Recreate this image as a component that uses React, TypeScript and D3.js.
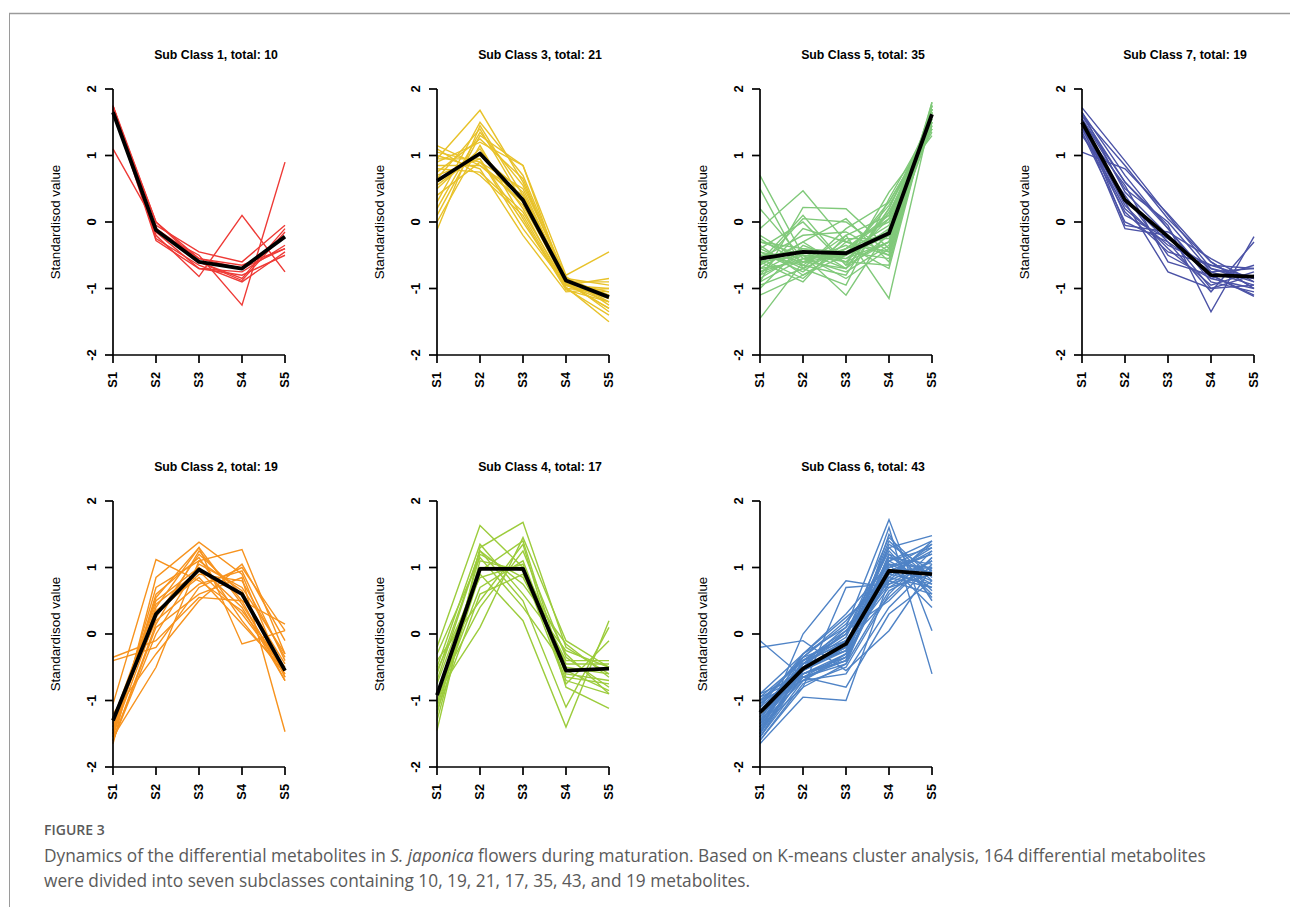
import React from 'react';
import * as d3 from 'd3';

const stages = ['S1', 'S2', 'S3', 'S4', 'S5'];
const yTicks = [-2, -1, 0, 1, 2];

// Sub Class 1 (10)
const class1 = [
  [1.75, 0.0, -0.55, -0.65, -0.4],
  [1.7, -0.1, -0.6, -0.85, -0.1],
  [1.1, -0.05, -0.45, -0.6, -0.05],
  [1.72, -0.2, -0.82, 0.1, -0.75],
  [1.68, -0.15, -0.5, -1.25, 0.9],
  [1.75, -0.25, -0.65, -0.9, -0.45],
  [1.7, -0.28, -0.7, -0.8, -0.5],
  [1.74, -0.1, -0.55, -0.7, -0.4],
  [1.72, 0.0, -0.6, -0.88, -0.15],
  [1.7, -0.15, -0.7, -0.75, -0.35],
];
const center1 = [1.65, -0.12, -0.6, -0.7, -0.22];

// Sub Class 3 (21)
const class3 = [
  [1.15, 0.85, 0.3, -0.95, -1.2],
  [1.05, 0.9, 0.5, -0.9, -1.05],
  [0.95, 1.68, 0.6, -0.85, -1.1],
  [-0.12, 1.45, 0.4, -0.92, -1.3],
  [0.1, 1.3, 0.85, -0.8, -0.45],
  [0.9, 1.2, 0.85, -0.95, -0.85],
  [0.5, 1.1, 0.2, -1.0, -1.4],
  [0.7, 0.95, 0.0, -0.98, -1.5],
  [1.0, 0.8, -0.2, -1.05, -1.0],
  [0.3, 1.5, 0.7, -0.85, -1.2],
  [0.6, 1.0, 0.45, -0.9, -0.9],
  [0.8, 0.75, 0.15, -0.95, -1.15],
  [0.2, 1.35, 0.55, -0.82, -1.25],
  [1.1, 0.7, 0.1, -1.0, -1.05],
  [0.4, 0.9, 0.25, -0.88, -1.35],
  [0.75, 1.25, 0.65, -0.9, -1.1],
  [0.55, 1.05, 0.35, -0.95, -1.0],
  [0.0, 1.15, 0.05, -1.02, -1.2],
  [0.85, 0.85, 0.4, -0.85, -0.95],
  [0.65, 1.4, 0.3, -0.92, -1.3],
  [0.95, 0.95, -0.1, -0.95, -1.1],
];
const center3 = [0.62, 1.03, 0.33, -0.88, -1.13];

// Sub Class 5 (35)
const class5 = [
  [0.7, -0.5, -0.6, -0.3, 1.5],
  [0.5, -0.7, -0.4, 0.1, 1.6],
  [-0.1, 0.47, -0.3, -0.5, 1.7],
  [-1.45, -0.6, -0.7, -0.2, 1.75],
  [-1.1, -0.8, -0.5, 0.3, 1.4],
  [-0.9, 0.22, 0.2, -0.4, 1.8],
  [-0.8, -0.5, -1.1, -0.1, 1.55],
  [-0.6, -0.9, -0.2, -1.15, 1.65],
  [-0.4, 0.0, -0.65, 0.45, 1.3],
  [-0.7, -0.3, 0.05, -0.6, 1.7],
  [-0.5, -0.65, -0.8, 0.2, 1.6],
  [-0.3, -0.4, -0.55, -0.3, 1.45],
  [-0.75, -0.55, -0.45, -0.05, 1.65],
  [-0.95, -0.7, -0.95, 0.35, 1.5],
  [-0.2, -0.6, -0.35, -0.7, 1.75],
  [-0.65, 0.05, 0.0, -0.45, 1.6],
  [-0.85, -0.45, -0.7, 0.15, 1.4],
  [-0.45, -0.75, -0.25, -0.25, 1.7],
  [-1.0, -0.35, -0.6, 0.05, 1.55],
  [0.2, -0.55, -0.75, -0.35, 1.6],
  [-0.55, -0.2, -0.15, -0.5, 1.75],
  [-0.7, -0.6, -0.5, 0.25, 1.35],
  [-0.35, -0.8, -0.4, -0.15, 1.65],
  [-0.6, -0.5, -0.85, -0.4, 1.7],
  [-0.8, -0.1, -0.3, 0.0, 1.5],
  [-0.5, -0.45, -0.6, -0.65, 1.8],
  [-0.25, -0.65, -0.2, 0.1, 1.45],
  [-0.9, -0.55, -0.5, -0.2, 1.6],
  [-0.6, 0.1, -0.65, -0.3, 1.7],
  [-0.4, -0.7, -0.1, 0.3, 1.4],
  [-0.75, -0.4, -0.45, -0.55, 1.75],
  [-0.65, -0.3, -0.7, 0.2, 1.55],
  [-0.3, -0.5, -0.55, -0.1, 1.65],
  [-0.55, -0.85, -0.3, -0.45, 1.6],
  [-0.45, -0.6, -0.4, 0.05, 1.5],
];
const center5 = [-0.55, -0.45, -0.47, -0.17, 1.62];

// Sub Class 7 (19)
const class7 = [
  [1.72, 0.92, 0.1, -0.7, -0.9],
  [1.05, 0.8, 0.12, -0.6, -1.0],
  [1.6, 0.6, -0.05, -1.35, -0.22],
  [1.5, 0.3, -0.75, -1.0, -0.8],
  [1.45, -0.1, -0.2, -0.8, -1.12],
  [1.35, 0.0, -0.3, -1.05, -0.3],
  [1.55, 0.5, 0.0, -0.75, -0.95],
  [1.4, 0.2, -0.35, -0.65, -0.7],
  [1.65, 0.7, -0.1, -0.9, -1.05],
  [1.3, 0.4, -0.5, -0.85, -0.65],
  [1.5, 0.1, -0.25, -0.7, -0.85],
  [1.6, 0.85, 0.05, -0.6, -1.0],
  [1.45, 0.25, -0.4, -0.95, -0.75],
  [1.55, -0.05, -0.15, -0.55, -0.9],
  [1.4, 0.55, -0.6, -0.8, -1.1],
  [1.5, 0.35, -0.3, -0.75, -0.7],
  [1.65, 0.45, -0.2, -1.0, -0.95],
  [1.35, 0.15, -0.45, -0.65, -0.85],
  [1.55, 0.6, -0.1, -0.85, -1.0],
];
const center7 = [1.5, 0.33, -0.22, -0.8, -0.82];

// Sub Class 2 (19)
const class2 = [
  [-0.35, -0.1, 0.55, 0.5, 0.15],
  [-0.4, -0.2, 0.7, 1.0, 0.05],
  [-1.05, 1.12, 0.8, 0.35, -0.5],
  [-1.65, 0.85, 1.38, 0.9, -0.65],
  [-1.55, -0.5, 1.1, 1.27, -0.3],
  [-1.45, 0.4, 1.3, -0.15, 0.05],
  [-1.6, 0.1, 0.6, 0.85, -1.47],
  [-1.3, 0.5, 1.0, 0.4, -0.7],
  [-1.5, 0.25, 1.2, 0.6, -0.45],
  [-1.2, -0.3, 0.5, 1.05, -0.1],
  [-1.55, 0.6, 1.15, 0.2, -0.6],
  [-1.4, 0.3, 0.9, 0.8, -0.35],
  [-1.6, 0.15, 1.25, 0.5, -0.7],
  [-1.35, 0.45, 0.95, 0.3, -0.55],
  [-1.5, 0.7, 1.1, 0.65, -0.65],
  [-1.25, 0.2, 0.75, 0.95, -0.4],
  [-1.45, 0.55, 1.3, 0.45, -0.6],
  [-1.6, 0.0, 1.05, 0.7, -0.3],
  [-1.4, 0.35, 0.85, 0.15, -0.55],
];
const center2 = [-1.3, 0.3, 0.97, 0.6, -0.55];

// Sub Class 4 (17)
const class4 = [
  [-0.2, 1.63, 1.0, -0.3, -0.9],
  [-1.45, 1.3, 1.68, -0.2, -0.6],
  [-0.9, 0.1, 1.45, -0.1, -0.5],
  [-1.1, 0.9, 0.2, -1.4, 0.2],
  [-0.6, 1.25, 0.5, -1.1, 0.1],
  [-0.4, 0.5, 1.35, -0.8, -1.12],
  [-1.2, 1.2, 0.85, -0.4, -0.4],
  [-0.75, 1.0, 1.0, -0.55, -0.85],
  [-1.0, 0.7, 1.1, -0.6, -0.7],
  [-0.5, 1.35, 0.6, -0.25, -0.5],
  [-1.3, 1.1, 0.95, -0.75, -0.1],
  [-0.85, 0.4, 1.25, -0.35, -0.8],
  [-0.3, 1.15, 0.4, -0.5, -0.6],
  [-1.05, 0.95, 1.4, -0.65, -0.75],
  [-0.7, 1.25, 0.75, -0.15, -0.65],
  [-1.15, 0.6, 0.9, -0.45, -0.45],
  [-0.55, 0.85, 1.05, -0.7, -0.9],
];
const center4 = [-0.92, 0.98, 0.98, -0.55, -0.52];

// Sub Class 6 (43)
const class6 = [
  [-0.1, -0.65, -0.8, 0.3, 0.8],
  [-0.2, -0.1, -0.55, 0.05, 1.0],
  [-1.65, -0.95, -1.0, 0.8, 0.6],
  [-1.5, 0.0, 0.8, 0.7, 0.9],
  [-1.4, -0.8, 0.7, 0.75, 1.1],
  [-1.3, -0.3, 0.1, 1.72, 0.05],
  [-1.2, -0.5, -0.2, 1.6, -0.6],
  [-0.9, -0.6, -0.4, 1.5, 0.5],
  [-1.0, -0.4, 0.0, 1.3, 1.48],
  [-1.55, -0.7, -0.3, 1.1, 1.4],
  [-1.45, -0.55, -0.1, 0.9, 1.3],
  [-1.35, -0.45, -0.25, 1.0, 1.2],
  [-1.25, -0.6, -0.35, 0.85, 1.35],
  [-1.15, -0.5, -0.15, 1.15, 0.9],
  [-1.05, -0.35, 0.2, 0.95, 0.7],
  [-0.95, -0.65, -0.45, 1.05, 1.0],
  [-1.6, -0.75, -0.5, 0.6, 1.25],
  [-1.5, -0.55, -0.2, 1.4, 0.8],
  [-1.4, -0.4, 0.05, 0.5, 1.15],
  [-1.3, -0.6, -0.3, 1.2, 0.6],
  [-1.2, -0.45, -0.1, 0.8, 1.4],
  [-1.1, -0.3, 0.3, 1.05, 0.4],
  [-1.0, -0.7, -0.6, 0.4, 1.05],
  [-1.55, -0.5, -0.25, 1.35, 0.95],
  [-1.45, -0.65, -0.4, 0.9, 0.75],
  [-1.35, -0.35, 0.15, 1.1, 1.3],
  [-1.25, -0.55, -0.15, 0.7, 1.1],
  [-1.15, -0.45, -0.05, 1.25, 0.55],
  [-1.05, -0.6, -0.35, 0.95, 1.2],
  [-0.95, -0.4, 0.0, 1.45, 0.85],
  [-1.6, -0.8, -0.45, 0.65, 1.0],
  [-1.5, -0.5, -0.2, 1.0, 1.35],
  [-1.4, -0.45, 0.1, 0.85, 0.7],
  [-1.3, -0.65, -0.3, 1.15, 1.05],
  [-1.2, -0.35, -0.1, 0.75, 0.95],
  [-1.1, -0.55, -0.25, 1.3, 0.65],
  [-1.0, -0.5, 0.05, 0.9, 1.25],
  [-1.55, -0.6, -0.4, 1.05, 0.8],
  [-1.45, -0.4, -0.15, 0.55, 1.15],
  [-1.35, -0.7, -0.35, 1.2, 0.9],
  [-1.25, -0.45, 0.0, 0.95, 1.0],
  [-1.15, -0.55, -0.2, 1.1, 0.75],
  [-0.9, -0.3, 0.25, 0.8, 1.1],
];
const center6 = [-1.18, -0.52, -0.15, 0.95, 0.9];

const panels = [
  { title: 'Sub Class 1, total: 10', lines: class1, center: center1, color: '#ee3a36', col: 0, row: 0 },
  { title: 'Sub Class 3, total: 21', lines: class3, center: center3, color: '#e8c22a', col: 1, row: 0 },
  { title: 'Sub Class 5, total: 35', lines: class5, center: center5, color: '#80c97a', col: 2, row: 0 },
  { title: 'Sub Class 7, total: 19', lines: class7, center: center7, color: '#4b52a6', col: 3, row: 0 },
  { title: 'Sub Class 2, total: 19', lines: class2, center: center2, color: '#f7931e', col: 0, row: 1 },
  { title: 'Sub Class 4, total: 17', lines: class4, center: center4, color: '#9ccc3c', col: 1, row: 1 },
  { title: 'Sub Class 6, total: 43', lines: class6, center: center6, color: '#4f83c6', col: 2, row: 1 },
];

const colX = [113, 437, 760, 1082];
const rowY = [89, 501];
const plotW = 172;
const plotH = 266;
const font = 'Liberation Sans, Arial, Helvetica, sans-serif';
const capFont = '"Open Sans", "Noto Sans", sans-serif';

const Panel = ({ p }) => {
  const x0 = colX[p.col];
  const y0 = rowY[p.row];
  const x = d3.scalePoint().domain(stages).range([0, plotW]);
  const y = d3.scaleLinear().domain([-2, 2]).range([plotH, 0]);
  const line = d3.line<number>().x((_, i) => x(stages[i])!).y(d => y(d));
  return (
    <g transform={`translate(${x0},${y0})`}>
      <text x={103} y={-30} textAnchor="middle" fontFamily={font} fontWeight="bold" fontSize={12.3}>{p.title}</text>
      {p.lines.map((v, i) => (
        <path key={i} d={line(v)!} fill="none" stroke={p.color} strokeWidth={1.4} />
      ))}
      <path d={line(p.center)!} fill="none" stroke="#000" strokeWidth={3.8} strokeLinejoin="round" />
      <line x1={0} x2={0} y1={y(-2)} y2={y(2)} stroke="#000" strokeWidth={1.7} />
      <line x1={0} x2={plotW} y1={plotH} y2={plotH} stroke="#000" strokeWidth={1.7} />
      {yTicks.map(t => (
        <g key={t} transform={`translate(0,${y(t)})`}>
          <line x1={-8} x2={0} stroke="#000" strokeWidth={1.7} />
          <text transform="translate(-22,0) rotate(-90)" textAnchor="middle" dy="0.35em" fontFamily={font} fontWeight="bold" fontSize={13}>
            {t}
          </text>
        </g>
      ))}
      {stages.map(s => (
        <g key={s} transform={`translate(${x(s)},${plotH})`}>
          <line y1={0} y2={8} stroke="#000" strokeWidth={1.7} />
          <text transform="translate(0,17) rotate(-90)" textAnchor="end" dy="0.35em" fontFamily={font} fontWeight="bold" fontSize={12.8}>{s}</text>
        </g>
      ))}
      <text transform={`translate(-58,${plotH / 2}) rotate(-90)`} textAnchor="middle" dy="0.35em" fontFamily={font} fontSize={13.4}>Standardisod value</text>
    </g>
  );
};

export default function App() {
  return (
    <svg width={1290} height={907} style={{ position: 'absolute', left: 0, top: 0, background: '#fff' }}>
      <rect width={1290} height={907} fill="#fff" />
      <line x1={9} x2={1290} y1={13.5} y2={13.5} stroke="#9a9a9a" strokeWidth={1.5} />
      <line x1={9.5} x2={9.5} y1={13} y2={907} stroke="#9a9a9a" strokeWidth={1} />
      {panels.map((p, i) => <Panel key={i} p={p} />)}
      <text x={44} y={835} fontFamily={capFont} fontSize={14} fontWeight="600" fill="#5a5a5a">FIGURE 3</text>
      <text x={44} y={862} fontFamily={capFont} fontSize={17.3} fill="#5a5a5a">
        Dynamics of the differential metabolites in <tspan fontStyle="italic">S. japonica</tspan> flowers during maturation. Based on K-means cluster analysis, 164 differential metabolites
      </text>
      <text x={44} y={887} fontFamily={capFont} fontSize={17.3} fill="#5a5a5a">
        were divided into seven subclasses containing 10, 19, 21, 17, 35, 43, and 19 metabolites.
      </text>
    </svg>
  );
}
